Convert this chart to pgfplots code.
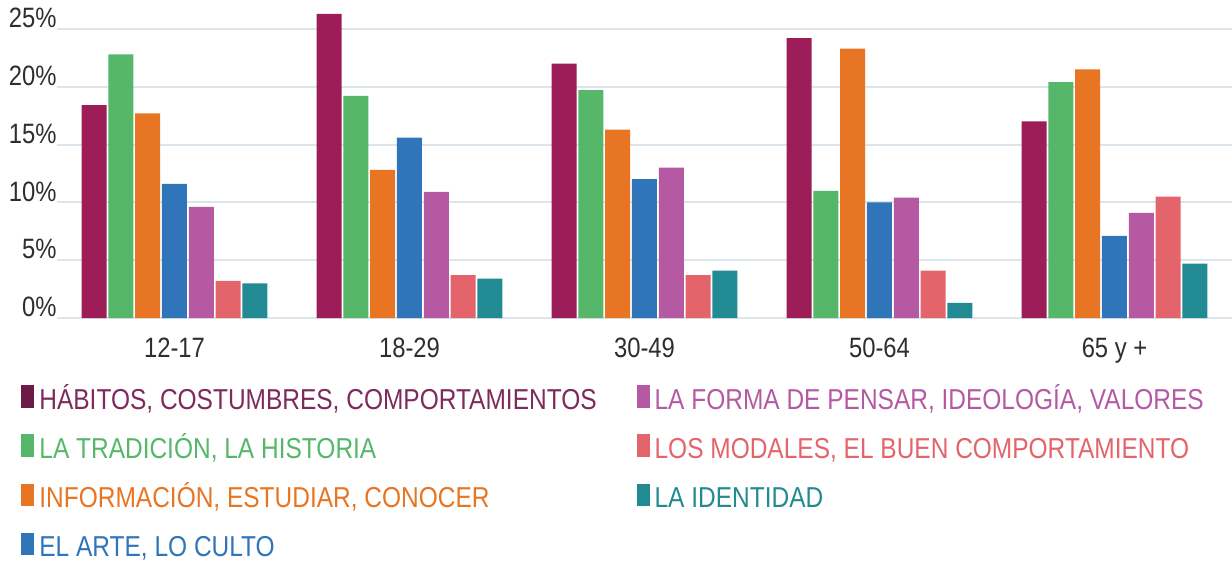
\documentclass[border=0pt]{standalone}
\usepackage{fontspec}
\setmainfont{Liberation Sans}[FakeStretch=0.85]
\usepackage{pgfplots}
\pgfplotsset{compat=1.18}

% bar colours
\definecolor{cHab}{HTML}{9C1D58}
\definecolor{cTra}{HTML}{56B76A}
\definecolor{cInf}{HTML}{E87524}
\definecolor{cArt}{HTML}{3074BA}
\definecolor{cFor}{HTML}{B55AA2}
\definecolor{cMod}{HTML}{E3646B}
\definecolor{cIde}{HTML}{228A92}
% legend square / text for the first series is darker
\definecolor{cHabL}{HTML}{6E1A47}
\definecolor{cHabT}{HTML}{7E2A5C}
\definecolor{gridc}{HTML}{DCE4EC}
\definecolor{tickc}{HTML}{2E2E2E}

\begin{document}
\begin{tikzpicture}
\begin{axis}[
  scale only axis,
  width=587.5pt, height=159pt,
  xmin=-0.5, xmax=4.5,
  ymin=0, ymax=27.5,
  ybar=0.9pt, bar width=12.5pt,
  xtick={0,1,2,3,4},
  xticklabels={12-17,18-29,30-49,50-64,65 y +},
  ytick={0,5,10,15,20,25},
  yticklabel={\pgfmathprintnumber{\tick}\%},
  /pgf/number format/assume math mode=true,
  axis line style={draw=none},
  major tick length=0pt,
  ymajorgrids,
  grid style={draw=gridc, line width=1pt},
  tick label style={font=\fontsize{14}{16}\selectfont, text=tickc},
  yticklabel style={anchor=base east, inner sep=0pt, yshift=0.6pt},
  xticklabel style={anchor=base, inner sep=0pt, yshift=-19.6pt},
  legend columns=4,
  transpose legend,
  legend cell align=left,
  legend image code/.code={\path[#1] (0pt,-4.5pt) rectangle (6.5pt,6.8pt);},
  legend style={
    at={(0,0)}, anchor=north west, xshift=-18pt, yshift=-31.5pt,
    draw=none, fill=none, inner sep=0pt,
    row sep=7.05pt,
    font=\fontsize{14.4}{17}\selectfont,
    /tikz/every odd column/.append style={column sep=0.5pt},
    /tikz/every even column/.append style={column sep=18pt,
      text height=12pt, text depth=3pt, inner sep=0pt},
  },
]
\coordinate (O) at (rel axis cs:0,0);

\addplot[fill=cHab, draw=none,
  legend image code/.code={\path[fill=cHabL] (0pt,-4.5pt) rectangle (6.5pt,6.8pt);}]
  coordinates {(0,18.4) (1,26.3) (2,22.0) (3,24.2) (4,17.0)};
\addlegendentry{\textcolor{cHabT}{HÁBITOS, COSTUMBRES, COMPORTAMIENTOS}}
\addplot[fill=cTra, draw=none] coordinates {(0,22.8) (1,19.2) (2,19.7) (3,11.0) (4,20.4)};
\addlegendentry{\textcolor{cTra}{LA TRADICIÓN, LA HISTORIA}}
\addplot[fill=cInf, draw=none] coordinates {(0,17.7) (1,12.8) (2,16.3) (3,23.3) (4,21.5)};
\addlegendentry{\textcolor{cInf}{INFORMACIÓN, ESTUDIAR, CONOCER}}
\addplot[fill=cArt, draw=none] coordinates {(0,11.6) (1,15.6) (2,12.0) (3,10.0) (4,7.1)};
\addlegendentry{\textcolor{cArt}{EL ARTE, LO CULTO}}
\addplot[fill=cFor, draw=none] coordinates {(0,9.6) (1,10.9) (2,13.0) (3,10.4) (4,9.1)};
\addlegendentry{\textcolor{cFor}{LA FORMA DE PENSAR, IDEOLOGÍA, VALORES}}
\addplot[fill=cMod, draw=none] coordinates {(0,3.2) (1,3.7) (2,3.7) (3,4.1) (4,10.5)};
\addlegendentry{\textcolor{cMod}{LOS MODALES, EL BUEN COMPORTAMIENTO}}
\addplot[fill=cIde, draw=none] coordinates {(0,3.0) (1,3.4) (2,4.1) (3,1.3) (4,4.7)};
\addlegendentry{\textcolor{cIde}{LA IDENTIDAD}}
\end{axis}
\pgfresetboundingbox
\path[use as bounding box] ([shift={(-28.5pt,-122pt)}]O) rectangle ([shift={(587.5pt,159pt)}]O);
\end{tikzpicture}
\end{document}
